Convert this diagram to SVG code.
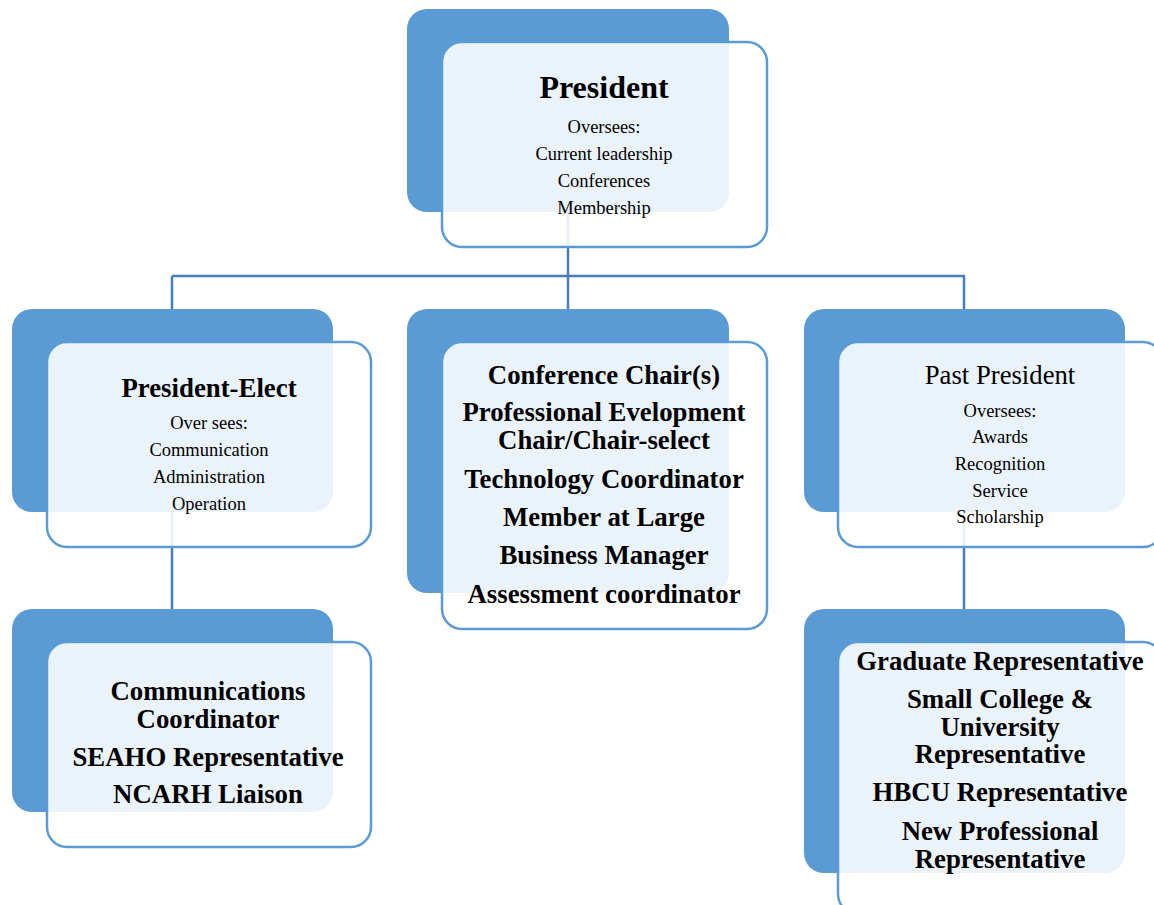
<svg xmlns="http://www.w3.org/2000/svg" width="1154" height="905" viewBox="0 0 1154 905">
<style>
.back{fill:#5B9BD5;}
.front{fill:#ffffff;fill-opacity:0.88;stroke:#5B9BD5;stroke-width:2.5;}
.conn{stroke:#4A7EBB;stroke-width:2.5;fill:none;}
text{font-family:"Liberation Serif","Times New Roman",serif;fill:#000;text-anchor:middle;}
.b{font-weight:bold;font-size:26.8px;}
.t{font-size:26.7px;}
.s{font-size:18.5px;}
.h{font-weight:bold;font-size:32px;}
</style>
<rect width="1154" height="905" fill="#ffffff"/>
<g id="connectors">
<path class="conn" d="M568 212 V276 M172 276 H965 M172 276 V309 M568 276 V309 M964 276 V309 M172 512 V609 M964 512 V609"/>
</g>
<g id="president">
<rect class="back" x="407" y="9" width="322" height="203" rx="20"/>
<rect class="front" x="442" y="42" width="325" height="205" rx="20"/>
<text class="h" x="604" y="98">President</text>
<text class="s" x="604" y="133">Oversees:</text>
<text class="s" x="604" y="160">Current leadership</text>
<text class="s" x="604" y="187">Conferences</text>
<text class="s" x="604" y="214">Membership</text>
</g>
<g id="president-elect">
<rect class="back" x="12" y="309" width="321" height="203" rx="20"/>
<rect class="front" x="47" y="342" width="324" height="205" rx="20"/>
<text class="b" x="209" y="397">President-Elect</text>
<text class="s" x="209" y="429">Over sees:</text>
<text class="s" x="209" y="456">Communication</text>
<text class="s" x="209" y="483">Administration</text>
<text class="s" x="209" y="510">Operation</text>
</g>
<g id="conference">
<rect class="back" x="407" y="309" width="322" height="284" rx="20"/>
<rect class="front" x="442" y="342" width="325" height="287" rx="20"/>
<text class="b" x="604" y="384">Conference Chair(s)</text>
<text class="b" x="604" y="421">Professional Evelopment</text>
<text class="b" x="604" y="449">Chair/Chair-select</text>
<text class="b" x="604" y="488">Technology Coordinator</text>
<text class="b" x="604" y="526">Member at Large</text>
<text class="b" x="604" y="564">Business Manager</text>
<text class="b" x="604" y="603">Assessment coordinator</text>
</g>
<g id="past-president">
<rect class="back" x="804" y="309" width="321" height="203" rx="20"/>
<rect class="front" x="838" y="342" width="325" height="205" rx="20"/>
<text class="t" x="1000" y="384">Past President</text>
<text class="s" x="1000" y="417">Oversees:</text>
<text class="s" x="1000" y="443">Awards</text>
<text class="s" x="1000" y="470">Recognition</text>
<text class="s" x="1000" y="497">Service</text>
<text class="s" x="1000" y="523">Scholarship</text>
</g>
<g id="communications">
<rect class="back" x="12" y="609" width="321" height="203" rx="20"/>
<rect class="front" x="47" y="642" width="324" height="205" rx="20"/>
<text class="b" x="208" y="700">Communications</text>
<text class="b" x="208" y="728">Coordinator</text>
<text class="b" x="208" y="766">SEAHO Representative</text>
<text class="b" x="208" y="803">NCARH Liaison</text>
</g>
<g id="representatives">
<rect class="back" x="804" y="609" width="321" height="264" rx="20"/>
<rect class="front" x="838" y="642" width="325" height="272" rx="20"/>
<text class="b" x="1000" y="670">Graduate Representative</text>
<text class="b" x="1000" y="708">Small College &amp;</text>
<text class="b" x="1000" y="736">University</text>
<text class="b" x="1000" y="763">Representative</text>
<text class="b" x="1000" y="801">HBCU Representative</text>
<text class="b" x="1000" y="840">New Professional</text>
<text class="b" x="1000" y="868">Representative</text>
</g>
</svg>
